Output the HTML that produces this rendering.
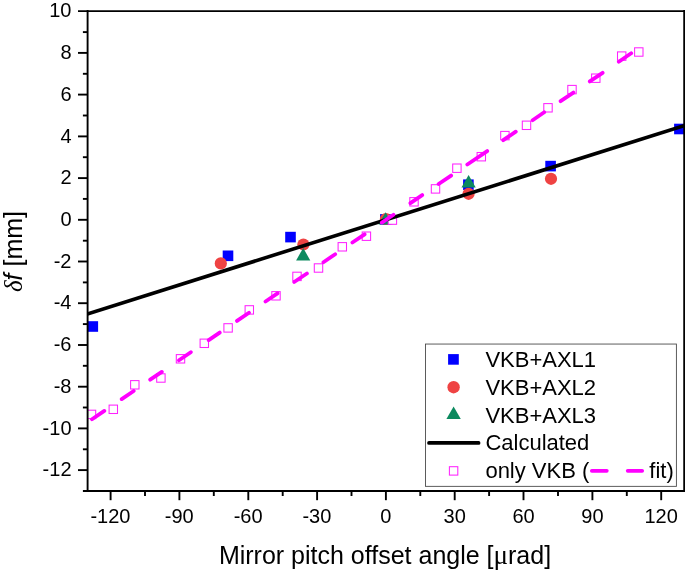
<!DOCTYPE html>
<html><head><meta charset="utf-8"><title>chart</title>
<style>
html,body{margin:0;padding:0;background:#fff;}
body{width:685px;height:572px;overflow:hidden;font-family:"Liberation Sans",sans-serif;}
svg{display:block;will-change:transform;}
text{font-family:"Liberation Sans",sans-serif;fill:#000;}
.tk{font-size:20px;}
.lg{font-size:22px;}
</style></head><body>
<svg width="685" height="572" viewBox="0 0 685 572">
<rect width="685" height="572" fill="#fff"/>
<defs><clipPath id="cp"><rect x="87.6" y="11.1" width="596.6" height="479.9"/></clipPath></defs>

<g clip-path="url(#cp)">
<rect x="87.5" y="321.2" width="10.6" height="10.6" fill="#0000ff"/>
<rect x="222.7" y="250.5" width="10.6" height="10.6" fill="#0000ff"/>
<rect x="285.2" y="231.8" width="10.6" height="10.6" fill="#0000ff"/>
<rect x="380.1" y="214.1" width="10.6" height="10.6" fill="#0000ff"/>
<rect x="463.1" y="179.4" width="10.6" height="10.6" fill="#0000ff"/>
<rect x="545.3" y="160.8" width="10.6" height="10.6" fill="#0000ff"/>
<rect x="674.1" y="123.7" width="10.6" height="10.6" fill="#0000ff"/>
<circle cx="220.8" cy="263.4" r="6.1" fill="#ef4343"/>
<circle cx="303.4" cy="244.5" r="6.1" fill="#ef4343"/>
<circle cx="385.9" cy="219.0" r="6.1" fill="#ef4343"/>
<circle cx="468.6" cy="193.8" r="6.1" fill="#ef4343"/>
<circle cx="551.0" cy="178.8" r="6.1" fill="#ef4343"/>
<path d="M303.2 248.0L310.3 260.4L296.1 260.4Z" fill="#0c8a5f"/>
<path d="M385.6 212.2L392.7 224.6L378.5 224.6Z" fill="#0c8a5f"/>
<path d="M468.6 175.0L475.7 187.4L461.5 187.4Z" fill="#0c8a5f"/>
<rect x="87.3" y="410.2" width="8.4" height="8.4" fill="#fff" stroke="#ff22ff" stroke-width="1.05"/>
<rect x="109.1" y="405.1" width="8.4" height="8.4" fill="#fff" stroke="#ff22ff" stroke-width="1.05"/>
<rect x="130.6" y="380.6" width="8.4" height="8.4" fill="#fff" stroke="#ff22ff" stroke-width="1.05"/>
<rect x="156.7" y="373.8" width="8.4" height="8.4" fill="#fff" stroke="#ff22ff" stroke-width="1.05"/>
<rect x="176.3" y="354.6" width="8.4" height="8.4" fill="#fff" stroke="#ff22ff" stroke-width="1.05"/>
<rect x="200.1" y="339.1" width="8.4" height="8.4" fill="#fff" stroke="#ff22ff" stroke-width="1.05"/>
<rect x="223.9" y="323.7" width="8.4" height="8.4" fill="#fff" stroke="#ff22ff" stroke-width="1.05"/>
<rect x="245.1" y="305.7" width="8.4" height="8.4" fill="#fff" stroke="#ff22ff" stroke-width="1.05"/>
<rect x="271.8" y="291.6" width="8.4" height="8.4" fill="#fff" stroke="#ff22ff" stroke-width="1.05"/>
<rect x="292.8" y="272.2" width="8.4" height="8.4" fill="#fff" stroke="#ff22ff" stroke-width="1.05"/>
<rect x="314.3" y="263.8" width="8.4" height="8.4" fill="#fff" stroke="#ff22ff" stroke-width="1.05"/>
<rect x="338.1" y="242.6" width="8.4" height="8.4" fill="#fff" stroke="#ff22ff" stroke-width="1.05"/>
<rect x="362.2" y="232.0" width="8.4" height="8.4" fill="#fff" stroke="#ff22ff" stroke-width="1.05"/>
<rect x="388.2" y="215.9" width="8.4" height="8.4" fill="#fff" stroke="#ff22ff" stroke-width="1.05"/>
<rect x="409.8" y="197.6" width="8.4" height="8.4" fill="#fff" stroke="#ff22ff" stroke-width="1.05"/>
<rect x="431.3" y="184.7" width="8.4" height="8.4" fill="#fff" stroke="#ff22ff" stroke-width="1.05"/>
<rect x="452.7" y="164.0" width="8.4" height="8.4" fill="#fff" stroke="#ff22ff" stroke-width="1.05"/>
<rect x="477.1" y="152.5" width="8.4" height="8.4" fill="#fff" stroke="#ff22ff" stroke-width="1.05"/>
<rect x="500.7" y="131.4" width="8.4" height="8.4" fill="#fff" stroke="#ff22ff" stroke-width="1.05"/>
<rect x="522.3" y="121.1" width="8.4" height="8.4" fill="#fff" stroke="#ff22ff" stroke-width="1.05"/>
<rect x="543.8" y="103.6" width="8.4" height="8.4" fill="#fff" stroke="#ff22ff" stroke-width="1.05"/>
<rect x="567.8" y="85.4" width="8.4" height="8.4" fill="#fff" stroke="#ff22ff" stroke-width="1.05"/>
<rect x="591.6" y="74.0" width="8.4" height="8.4" fill="#fff" stroke="#ff22ff" stroke-width="1.05"/>
<rect x="617.5" y="51.9" width="8.4" height="8.4" fill="#fff" stroke="#ff22ff" stroke-width="1.05"/>
<rect x="634.6" y="47.8" width="8.4" height="8.4" fill="#fff" stroke="#ff22ff" stroke-width="1.05"/>
<line x1="86" y1="314.36" x2="686" y2="125.12" stroke="#000" stroke-width="3.6"/>
<path d="M92.0 419.3L104.3 410.9M121.7 399.1L133.7 391.0M150.2 379.7L161.8 371.9M179.0 360.3L190.8 352.2M208.7 340.1L219.7 332.6M237.0 320.9L249.0 312.7M265.5 301.5L277.5 293.4M294.2 282.0L306.9 273.5M323.4 262.2L335.2 254.2M352.4 242.5L364.6 234.3M381.8 222.6L393.5 214.7M410.4 203.1L422.2 195.1M438.6 184.0L451.1 175.6M467.3 164.5L487.2 151.1M503.2 140.2L515.8 131.7M532.6 120.2L544.2 112.3M560.6 101.2L573.4 92.6M589.8 81.4L602.6 72.8M618.8 61.8L631.2 53.3" stroke="#ff00ff" stroke-width="3.8" stroke-linecap="round" fill="none"/>
</g>
<g stroke="#000" stroke-width="1.9" fill="none">
<path d="M78 11.1H685.2"/>
<path d="M87.6 10.1V492.0"/>
<path d="M82.9 491.0H685.2"/>
<path d="M684.2 10.1V492.0"/>
<path d="M78 470.1H87.6"/>
<path d="M82.9 449.3H87.6"/>
<path d="M78 428.4H87.6"/>
<path d="M82.9 407.5H87.6"/>
<path d="M78 386.7H87.6"/>
<path d="M82.9 365.8H87.6"/>
<path d="M78 345.0H87.6"/>
<path d="M82.9 324.1H87.6"/>
<path d="M78 303.2H87.6"/>
<path d="M82.9 282.4H87.6"/>
<path d="M78 261.5H87.6"/>
<path d="M82.9 240.7H87.6"/>
<path d="M78 219.8H87.6"/>
<path d="M82.9 198.9H87.6"/>
<path d="M78 178.1H87.6"/>
<path d="M82.9 157.2H87.6"/>
<path d="M78 136.4H87.6"/>
<path d="M82.9 115.5H87.6"/>
<path d="M78 94.6H87.6"/>
<path d="M82.9 73.8H87.6"/>
<path d="M78 52.9H87.6"/>
<path d="M82.9 32.1H87.6"/>
<path d="M110.6 491.0V500.2"/>
<path d="M145.0 491.0V496.0"/>
<path d="M179.4 491.0V500.2"/>
<path d="M213.8 491.0V496.0"/>
<path d="M248.3 491.0V500.2"/>
<path d="M282.7 491.0V496.0"/>
<path d="M317.1 491.0V500.2"/>
<path d="M351.5 491.0V496.0"/>
<path d="M385.9 491.0V500.2"/>
<path d="M420.3 491.0V496.0"/>
<path d="M454.7 491.0V500.2"/>
<path d="M489.1 491.0V496.0"/>
<path d="M523.5 491.0V500.2"/>
<path d="M558.0 491.0V496.0"/>
<path d="M592.4 491.0V500.2"/>
<path d="M626.8 491.0V496.0"/>
<path d="M661.2 491.0V500.2"/>
</g>
<text class="tk" x="71.5" y="476.2" text-anchor="end">-12</text>
<text class="tk" x="71.5" y="434.5" text-anchor="end">-10</text>
<text class="tk" x="71.5" y="392.8" text-anchor="end">-8</text>
<text class="tk" x="71.5" y="351.1" text-anchor="end">-6</text>
<text class="tk" x="71.5" y="309.3" text-anchor="end">-4</text>
<text class="tk" x="71.5" y="267.6" text-anchor="end">-2</text>
<text class="tk" x="71.5" y="225.9" text-anchor="end">0</text>
<text class="tk" x="71.5" y="184.2" text-anchor="end">2</text>
<text class="tk" x="71.5" y="142.5" text-anchor="end">4</text>
<text class="tk" x="71.5" y="100.7" text-anchor="end">6</text>
<text class="tk" x="71.5" y="59.0" text-anchor="end">8</text>
<text class="tk" x="71.5" y="17.3" text-anchor="end">10</text>
<text class="tk" x="110.4" y="523" text-anchor="middle">-120</text>
<text class="tk" x="179.2" y="523" text-anchor="middle">-90</text>
<text class="tk" x="248.1" y="523" text-anchor="middle">-60</text>
<text class="tk" x="316.9" y="523" text-anchor="middle">-30</text>
<text class="tk" x="385.9" y="523" text-anchor="middle">0</text>
<text class="tk" x="454.7" y="523" text-anchor="middle">30</text>
<text class="tk" x="523.5" y="523" text-anchor="middle">60</text>
<text class="tk" x="592.4" y="523" text-anchor="middle">90</text>
<text class="tk" x="661.2" y="523" text-anchor="middle">120</text>
<text x="385" y="564.2" text-anchor="middle" font-size="25">Mirror pitch offset angle [<tspan font-family="Liberation Serif" font-size="27">μ</tspan>rad]</text>
<text transform="translate(21.9,251.5) rotate(-90)" text-anchor="middle" font-size="25"><tspan font-family="Liberation Serif" font-style="italic">δ</tspan><tspan font-style="italic">f</tspan> [mm]</text>
<rect x="425.5" y="344.05" width="250.9" height="142.3" fill="#fff" stroke="#4a4a4a" stroke-width="0.9"/>
<rect x="448.1" y="354.1" width="10.7" height="10.6" fill="#0000ff"/>
<circle cx="453.6" cy="387.2" r="6.2" fill="#ef4343"/>
<path d="M453.6 406.6L460.8 419.1L446.4 419.1Z" fill="#0c8a5f"/>
<line x1="429" y1="442.9" x2="478.6" y2="442.9" stroke="#000" stroke-width="3.7" stroke-linecap="round"/>
<rect x="449.4" y="466.7" width="8.4" height="8.4" fill="#fff" stroke="#ff22ff" stroke-width="1.05"/>
<text class="lg" x="485.4" y="367.0">VKB+AXL1</text>
<text class="lg" x="485.4" y="394.8">VKB+AXL2</text>
<text class="lg" x="485.4" y="422.6">VKB+AXL3</text>
<text class="lg" x="485.4" y="450.4">Calculated</text>
<text class="lg" x="485.4" y="478.2">only VKB (</text>
<text class="lg" x="649.3" y="478.2">fit)</text>
<line x1="591.8" y1="470.8" x2="606.8" y2="470.8" stroke="#ff00ff" stroke-width="3.7" stroke-linecap="round"/>
<line x1="627.7" y1="470.8" x2="642.2" y2="470.8" stroke="#ff00ff" stroke-width="3.7" stroke-linecap="round"/>
</svg></body></html>
